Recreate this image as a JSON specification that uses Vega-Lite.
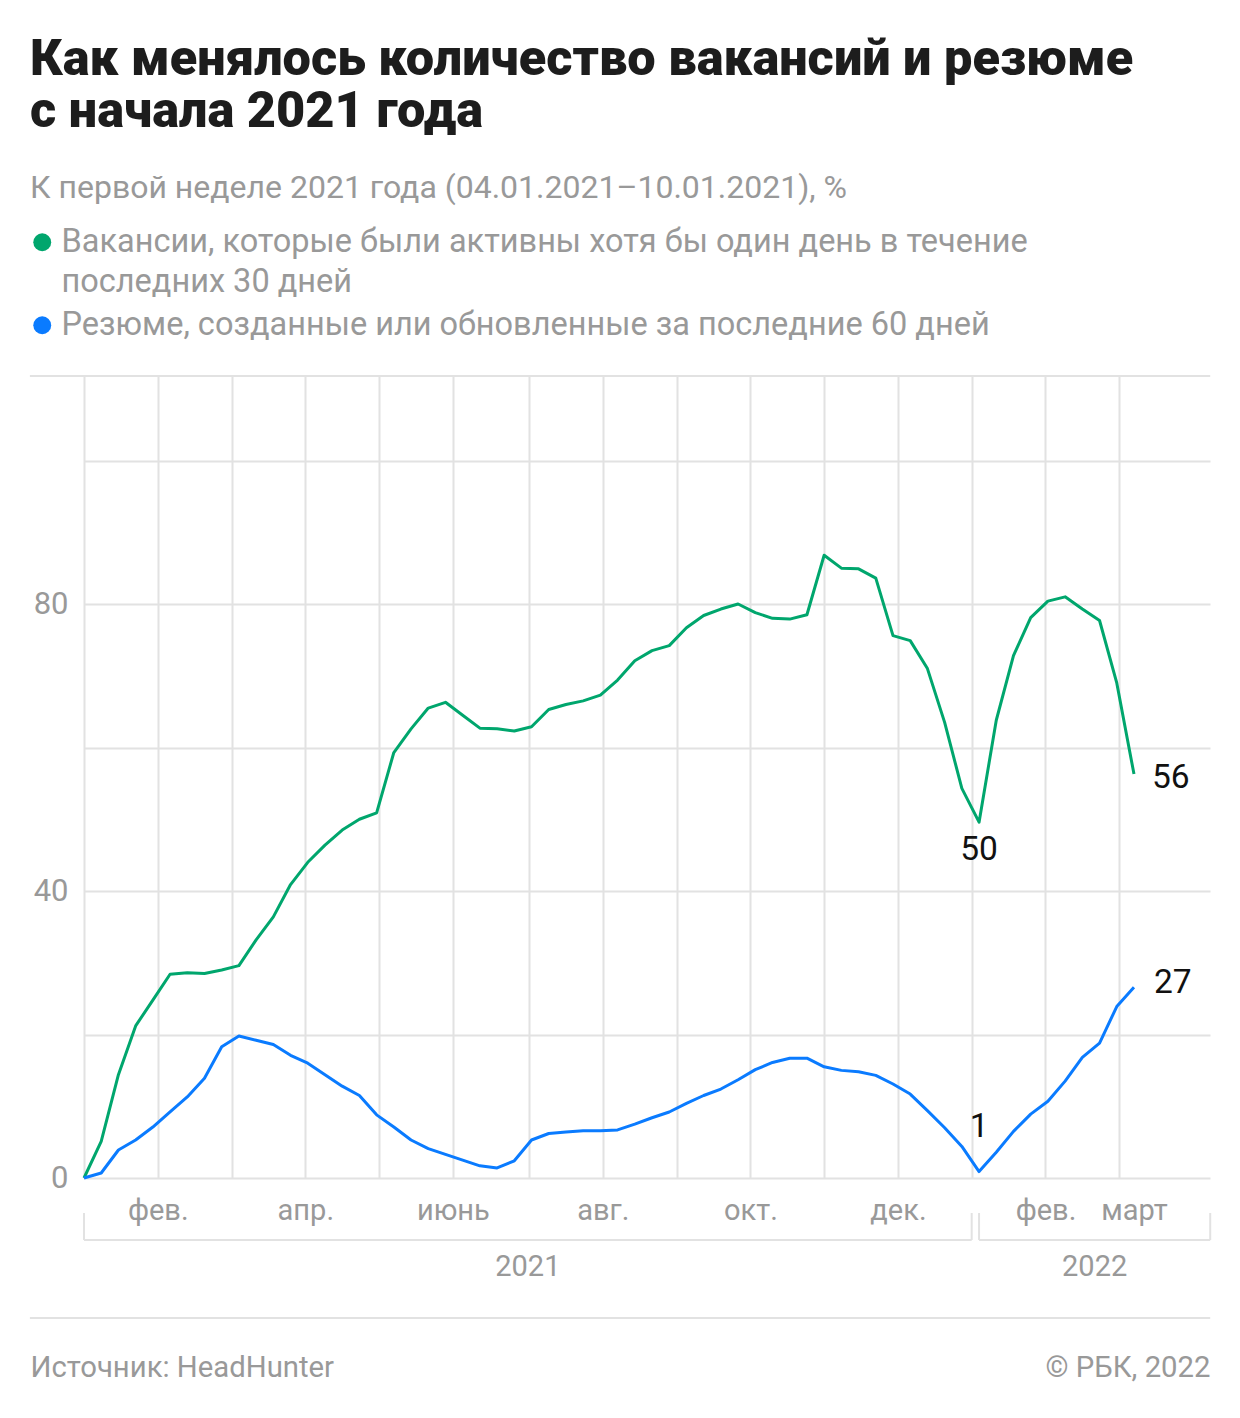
{
  "$schema": "https://vega.github.io/schema/vega-lite/v6.json",
  "width": 1126,
  "height": 802,
  "autosize": {"type": "none"},
  "padding": {"left": 84, "top": 376, "right": 30, "bottom": 240},
  "background": "white",
  "config": {"font": "Roboto", "view": {"stroke": null}},
  "title": {
    "text": ["Как менялось количество вакансий и резюме", "с начала 2021 года"],
    "subtitle": "К первой неделе 2021 года (04.01.2021–10.01.2021), %",
    "anchor": "start",
    "frame": "group",
    "dx": -54,
    "offset": 22,
    "font": "Roboto",
    "fontSize": 50.5,
    "fontWeight": 900,
    "lineHeight": 52,
    "color": "#1d1d1d",
    "subtitleFont": "Roboto",
    "subtitleFontSize": 32,
    "subtitleColor": "#999999",
    "subtitlePadding": 36
  },
  "data": {
    "format": {"parse": {"d": "date"}},
    "values": [
      {"d": "2021-01-04", "s": "Вакансии", "v": 0},
      {"d": "2021-01-11", "s": "Вакансии", "v": 5.1},
      {"d": "2021-01-18", "s": "Вакансии", "v": 14.4},
      {"d": "2021-01-25", "s": "Вакансии", "v": 21.2},
      {"d": "2021-02-01", "s": "Вакансии", "v": 24.8},
      {"d": "2021-02-08", "s": "Вакансии", "v": 28.4},
      {"d": "2021-02-15", "s": "Вакансии", "v": 28.6},
      {"d": "2021-02-22", "s": "Вакансии", "v": 28.5},
      {"d": "2021-03-01", "s": "Вакансии", "v": 29.0},
      {"d": "2021-03-08", "s": "Вакансии", "v": 29.6},
      {"d": "2021-03-15", "s": "Вакансии", "v": 33.2},
      {"d": "2021-03-22", "s": "Вакансии", "v": 36.4},
      {"d": "2021-03-29", "s": "Вакансии", "v": 40.9},
      {"d": "2021-04-05", "s": "Вакансии", "v": 44.0},
      {"d": "2021-04-12", "s": "Вакансии", "v": 46.4},
      {"d": "2021-04-19", "s": "Вакансии", "v": 48.5},
      {"d": "2021-04-26", "s": "Вакансии", "v": 50.0},
      {"d": "2021-05-03", "s": "Вакансии", "v": 50.9},
      {"d": "2021-05-10", "s": "Вакансии", "v": 59.3},
      {"d": "2021-05-17", "s": "Вакансии", "v": 62.6},
      {"d": "2021-05-24", "s": "Вакансии", "v": 65.5},
      {"d": "2021-05-31", "s": "Вакансии", "v": 66.3},
      {"d": "2021-06-07", "s": "Вакансии", "v": 64.5},
      {"d": "2021-06-14", "s": "Вакансии", "v": 62.7},
      {"d": "2021-06-21", "s": "Вакансии", "v": 62.6},
      {"d": "2021-06-28", "s": "Вакансии", "v": 62.3},
      {"d": "2021-07-05", "s": "Вакансии", "v": 62.9},
      {"d": "2021-07-12", "s": "Вакансии", "v": 65.3},
      {"d": "2021-07-19", "s": "Вакансии", "v": 66.0},
      {"d": "2021-07-26", "s": "Вакансии", "v": 66.5},
      {"d": "2021-08-02", "s": "Вакансии", "v": 67.3},
      {"d": "2021-08-09", "s": "Вакансии", "v": 69.4},
      {"d": "2021-08-16", "s": "Вакансии", "v": 72.1},
      {"d": "2021-08-23", "s": "Вакансии", "v": 73.5},
      {"d": "2021-08-30", "s": "Вакансии", "v": 74.2},
      {"d": "2021-09-06", "s": "Вакансии", "v": 76.7},
      {"d": "2021-09-13", "s": "Вакансии", "v": 78.4},
      {"d": "2021-09-20", "s": "Вакансии", "v": 79.3},
      {"d": "2021-09-27", "s": "Вакансии", "v": 80.0},
      {"d": "2021-10-04", "s": "Вакансии", "v": 78.8},
      {"d": "2021-10-11", "s": "Вакансии", "v": 78.0},
      {"d": "2021-10-18", "s": "Вакансии", "v": 77.9},
      {"d": "2021-10-25", "s": "Вакансии", "v": 78.5},
      {"d": "2021-11-01", "s": "Вакансии", "v": 86.8},
      {"d": "2021-11-08", "s": "Вакансии", "v": 85.0},
      {"d": "2021-11-15", "s": "Вакансии", "v": 84.9},
      {"d": "2021-11-22", "s": "Вакансии", "v": 83.6},
      {"d": "2021-11-29", "s": "Вакансии", "v": 75.6},
      {"d": "2021-12-06", "s": "Вакансии", "v": 74.9},
      {"d": "2021-12-13", "s": "Вакансии", "v": 71.0},
      {"d": "2021-12-20", "s": "Вакансии", "v": 63.5},
      {"d": "2021-12-27", "s": "Вакансии", "v": 54.3},
      {"d": "2022-01-03", "s": "Вакансии", "v": 49.6},
      {"d": "2022-01-10", "s": "Вакансии", "v": 63.8},
      {"d": "2022-01-17", "s": "Вакансии", "v": 72.8},
      {"d": "2022-01-24", "s": "Вакансии", "v": 78.1},
      {"d": "2022-01-31", "s": "Вакансии", "v": 80.4},
      {"d": "2022-02-07", "s": "Вакансии", "v": 81.0},
      {"d": "2022-02-14", "s": "Вакансии", "v": 79.3},
      {"d": "2022-02-21", "s": "Вакансии", "v": 77.7},
      {"d": "2022-02-28", "s": "Вакансии", "v": 69.0},
      {"d": "2022-03-07", "s": "Вакансии", "v": 56.3},
      {"d": "2021-01-04", "s": "Резюме", "v": 0},
      {"d": "2021-01-11", "s": "Резюме", "v": 0.7},
      {"d": "2021-01-18", "s": "Резюме", "v": 3.9},
      {"d": "2021-01-25", "s": "Резюме", "v": 5.3},
      {"d": "2021-02-01", "s": "Резюме", "v": 7.1},
      {"d": "2021-02-08", "s": "Резюме", "v": 9.2},
      {"d": "2021-02-15", "s": "Резюме", "v": 11.3},
      {"d": "2021-02-22", "s": "Резюме", "v": 13.9},
      {"d": "2021-03-01", "s": "Резюме", "v": 18.3},
      {"d": "2021-03-08", "s": "Резюме", "v": 19.8},
      {"d": "2021-03-15", "s": "Резюме", "v": 19.2},
      {"d": "2021-03-22", "s": "Резюме", "v": 18.6},
      {"d": "2021-03-29", "s": "Резюме", "v": 17.1},
      {"d": "2021-04-05", "s": "Резюме", "v": 16.0},
      {"d": "2021-04-12", "s": "Резюме", "v": 14.4},
      {"d": "2021-04-19", "s": "Резюме", "v": 12.8},
      {"d": "2021-04-26", "s": "Резюме", "v": 11.5},
      {"d": "2021-05-03", "s": "Резюме", "v": 8.8},
      {"d": "2021-05-10", "s": "Резюме", "v": 7.1},
      {"d": "2021-05-17", "s": "Резюме", "v": 5.3},
      {"d": "2021-05-24", "s": "Резюме", "v": 4.1},
      {"d": "2021-05-31", "s": "Резюме", "v": 3.3},
      {"d": "2021-06-07", "s": "Резюме", "v": 2.5},
      {"d": "2021-06-14", "s": "Резюме", "v": 1.7},
      {"d": "2021-06-21", "s": "Резюме", "v": 1.4},
      {"d": "2021-06-28", "s": "Резюме", "v": 2.4},
      {"d": "2021-07-05", "s": "Резюме", "v": 5.3},
      {"d": "2021-07-12", "s": "Резюме", "v": 6.2},
      {"d": "2021-07-19", "s": "Резюме", "v": 6.4},
      {"d": "2021-07-26", "s": "Резюме", "v": 6.6},
      {"d": "2021-08-02", "s": "Резюме", "v": 6.6},
      {"d": "2021-08-09", "s": "Резюме", "v": 6.7},
      {"d": "2021-08-16", "s": "Резюме", "v": 7.5},
      {"d": "2021-08-23", "s": "Резюме", "v": 8.4},
      {"d": "2021-08-30", "s": "Резюме", "v": 9.2},
      {"d": "2021-09-06", "s": "Резюме", "v": 10.4},
      {"d": "2021-09-13", "s": "Резюме", "v": 11.5},
      {"d": "2021-09-20", "s": "Резюме", "v": 12.4},
      {"d": "2021-09-27", "s": "Резюме", "v": 13.7},
      {"d": "2021-10-04", "s": "Резюме", "v": 15.1},
      {"d": "2021-10-11", "s": "Резюме", "v": 16.1},
      {"d": "2021-10-18", "s": "Резюме", "v": 16.7},
      {"d": "2021-10-25", "s": "Резюме", "v": 16.7},
      {"d": "2021-11-01", "s": "Резюме", "v": 15.5},
      {"d": "2021-11-08", "s": "Резюме", "v": 15.0},
      {"d": "2021-11-15", "s": "Резюме", "v": 14.8},
      {"d": "2021-11-22", "s": "Резюме", "v": 14.3},
      {"d": "2021-11-29", "s": "Резюме", "v": 13.1},
      {"d": "2021-12-06", "s": "Резюме", "v": 11.7},
      {"d": "2021-12-13", "s": "Резюме", "v": 9.4},
      {"d": "2021-12-20", "s": "Резюме", "v": 7.0},
      {"d": "2021-12-27", "s": "Резюме", "v": 4.4},
      {"d": "2022-01-03", "s": "Резюме", "v": 0.9},
      {"d": "2022-01-10", "s": "Резюме", "v": 3.6},
      {"d": "2022-01-17", "s": "Резюме", "v": 6.5},
      {"d": "2022-01-24", "s": "Резюме", "v": 8.9},
      {"d": "2022-01-31", "s": "Резюме", "v": 10.7},
      {"d": "2022-02-07", "s": "Резюме", "v": 13.5},
      {"d": "2022-02-14", "s": "Резюме", "v": 16.8},
      {"d": "2022-02-21", "s": "Резюме", "v": 18.8},
      {"d": "2022-02-28", "s": "Резюме", "v": 23.9},
      {"d": "2022-03-07", "s": "Резюме", "v": 26.6}
    ]
  },
  "layer": [
    {
      "data": {"values": [{}]},
      "mark": {"type": "rule", "color": "#e2e2e2", "strokeWidth": 2},
      "encoding": {
        "x": {"datum": {"year": 2020, "month": 12, "date": 13, "utc": true}, "type": "temporal"},
        "x2": {"datum": {"year": 2022, "month": 4, "date": 7, "utc": true}},
        "y": {"datum": 111.78, "type": "quantitative"}
      }
    },
    {
      "data": {"values": [{}]},
      "mark": {"type": "rule", "color": "#e2e2e2", "strokeWidth": 2},
      "encoding": {
        "x": {"datum": {"year": 2020, "month": 12, "date": 13, "utc": true}, "type": "temporal"},
        "x2": {"datum": {"year": 2022, "month": 4, "date": 7, "utc": true}},
        "y": {"datum": -19.51, "type": "quantitative"}
      }
    },
    {
      "data": {
        "format": {"parse": {"start": "date", "end": "date"}},
        "values": [
          {"year": "2021", "start": "2021-01-04", "end": "2021-12-31"},
          {"year": "2022", "start": "2022-01-03", "end": "2022-04-07"}
        ]
      },
      "layer": [
        {
          "mark": {"type": "rule", "color": "#e2e2e2", "strokeWidth": 2},
          "encoding": {
            "x": {"field": "start", "type": "temporal"},
            "x2": {"field": "end"},
            "y": {"datum": -8.64, "type": "quantitative"}
          }
        },
        {
          "mark": {"type": "rule", "color": "#e2e2e2", "strokeWidth": 2},
          "encoding": {
            "x": {"field": "start", "type": "temporal"},
            "y": {"datum": -4.88, "type": "quantitative"},
            "y2": {"datum": -8.64}
          }
        },
        {
          "mark": {"type": "rule", "color": "#e2e2e2", "strokeWidth": 2},
          "encoding": {
            "x": {"field": "end", "type": "temporal"},
            "y": {"datum": -4.88, "type": "quantitative"},
            "y2": {"datum": -8.64}
          }
        },
        {
          "transform": [{"fold": ["start", "end"], "as": ["k", "t"]}],
          "mark": {"type": "text", "fontSize": 29, "color": "#999999", "align": "center", "baseline": "middle"},
          "encoding": {
            "x": {"field": "t", "type": "temporal", "aggregate": "mean"},
            "y": {"datum": -12.4, "type": "quantitative"},
            "text": {"field": "year", "type": "nominal"}
          }
        }
      ]
    },
    {
      "mark": {"type": "line", "strokeWidth": 3, "strokeJoin": "round"},
      "encoding": {
        "x": {
          "field": "d",
          "type": "temporal",
          "scale": {
            "domain": [
              {"year": 2021, "month": 1, "date": 4, "utc": true},
              {"year": 2022, "month": 4, "date": 6, "hours": 22, "utc": true}
            ],
            "nice": false
          },
          "axis": {
            "title": "Источник: HeadHunter",
            "titleX": -54,
            "titleY": 189,
            "titleAlign": "left",
            "titleAnchor": "start",
            "titleBaseline": "middle",
            "titleFont": "Roboto",
            "titleFontSize": 29.3,
            "titleFontWeight": "normal",
            "titleColor": "#999999",
            "values": [
              {"year": 2021, "month": 1, "date": 4, "utc": true},
              {"year": 2021, "month": 2, "date": 3, "utc": true},
              {"year": 2021, "month": 3, "date": 5, "utc": true},
              {"year": 2021, "month": 4, "date": 4, "utc": true},
              {"year": 2021, "month": 5, "date": 4, "utc": true},
              {"year": 2021, "month": 6, "date": 3, "utc": true},
              {"year": 2021, "month": 7, "date": 4, "utc": true},
              {"year": 2021, "month": 8, "date": 3, "utc": true},
              {"year": 2021, "month": 9, "date": 2, "utc": true},
              {"year": 2021, "month": 10, "date": 2, "utc": true},
              {"year": 2021, "month": 11, "date": 1, "utc": true},
              {"year": 2021, "month": 12, "date": 1, "utc": true},
              {"year": 2021, "month": 12, "date": 31, "utc": true},
              {"year": 2022, "month": 1, "date": 30, "utc": true},
              {"year": 2022, "month": 3, "date": 1, "utc": true},
              {"year": 2022, "month": 3, "date": 7, "utc": true}
            ],
            "labelExpr": "indexof(['2021-02-03','2021-04-04','2021-06-03','2021-08-03','2021-10-02','2021-12-01','2022-01-30','2022-03-07'], utcFormat(datum.value, '%Y-%m-%d')) >= 0 ? ['фев.','апр.','июнь','авг.','окт.','дек.','фев.','март'][indexof(['2021-02-03','2021-04-04','2021-06-03','2021-08-03','2021-10-02','2021-12-01','2022-01-30','2022-03-07'], utcFormat(datum.value, '%Y-%m-%d'))] : ''",
            "labelFont": "Roboto",
            "labelFontSize": 29,
            "labelColor": "#999999",
            "labelBaseline": "middle",
            "labelPadding": 32,
            "labelOverlap": false,
            "labelFlush": false,
            "domain": false,
            "ticks": false,
            "tickSize": 0,
            "grid": true,
            "gridColor": "#e2e2e2",
            "gridWidth": 2,
            "gridOpacity": {"condition": {"test": "utcFormat(datum.value, '%Y-%m-%d') == '2022-03-07'", "value": 0}, "value": 1}
          }
        },
        "y": {
          "field": "v",
          "type": "quantitative",
          "scale": {"domain": [0, 111.78], "nice": false, "zero": false},
          "axis": {
            "title": "© РБК, 2022",
            "titleAngle": 0,
            "titleX": 1126,
            "titleY": 991,
            "titleAlign": "right",
            "titleBaseline": "middle",
            "titleFont": "Roboto",
            "titleFontSize": 29.3,
            "titleFontWeight": "normal",
            "titleColor": "#999999",
            "values": [0, 20, 40, 60, 80, 100],
            "labelExpr": "datum.value % 40 == 0 ? datum.label : ''",
            "labelFont": "Roboto",
            "labelFontSize": 31,
            "labelColor": "#999999",
            "labelPadding": 16,
            "labelOverlap": false,
            "domain": false,
            "ticks": false,
            "tickSize": 0,
            "grid": true,
            "gridColor": "#e2e2e2",
            "gridWidth": 2
          }
        },
        "color": {
          "field": "s",
          "type": "nominal",
          "scale": {"domain": ["Вакансии", "Резюме"], "range": ["#00a66d", "#0a7bff"]},
          "legend": {
            "orient": "none",
            "legendX": -58,
            "legendY": -150,
            "title": null,
            "direction": "vertical",
            "padding": 0,
            "symbolType": "circle",
            "symbolSize": 320,
            "symbolStrokeWidth": 0,
            "labelFont": "Roboto",
            "labelFontSize": 32.5,
            "labelColor": "#999999",
            "labelLimit": 1200,
            "labelOffset": 3,
            "rowPadding": 10,
            "labelExpr": "datum.value == 'Вакансии' ? ['Вакансии, которые были активны хотя бы один день в течение', 'последних 30 дней'] : 'Резюме, созданные или обновленные за последние 60 дней'",
            "encode": {
              "symbols": {"update": {"fill": {"scale": "color", "field": "value"}, "stroke": {"value": "transparent"}}},
              "labels": {"update": {"lineHeight": {"value": 40}}}
            }
          }
        }
      }
    },
    {
      "transform": [{"filter": "datum.s == 'Вакансии' && utcFormat(datum.d, '%Y-%m-%d') == '2022-01-03'"}],
      "mark": {"type": "text", "fontSize": 33.5, "color": "#111111", "align": "center", "baseline": "middle", "dy": 28},
      "encoding": {
        "x": {"field": "d", "type": "temporal"},
        "y": {"field": "v", "type": "quantitative"},
        "text": {"field": "v", "type": "quantitative", "format": ".0f"}
      }
    },
    {
      "transform": [{"filter": "datum.s == 'Резюме' && utcFormat(datum.d, '%Y-%m-%d') == '2022-01-03'"}],
      "mark": {"type": "text", "fontSize": 33.5, "color": "#111111", "align": "center", "baseline": "middle", "dy": -45},
      "encoding": {
        "x": {"field": "d", "type": "temporal"},
        "y": {"field": "v", "type": "quantitative"},
        "text": {"field": "v", "type": "quantitative", "format": ".0f"}
      }
    },
    {
      "transform": [{"filter": "datum.s == 'Вакансии' && utcFormat(datum.d, '%Y-%m-%d') == '2022-03-07'"}],
      "mark": {"type": "text", "fontSize": 33.5, "color": "#111111", "align": "left", "baseline": "middle", "dx": 18, "dy": 4},
      "encoding": {
        "x": {"field": "d", "type": "temporal"},
        "y": {"field": "v", "type": "quantitative"},
        "text": {"field": "v", "type": "quantitative", "format": ".0f"}
      }
    },
    {
      "transform": [{"filter": "datum.s == 'Резюме' && utcFormat(datum.d, '%Y-%m-%d') == '2022-03-07'"}],
      "mark": {"type": "text", "fontSize": 33.5, "color": "#111111", "align": "left", "baseline": "middle", "dx": 20, "dy": -4},
      "encoding": {
        "x": {"field": "d", "type": "temporal"},
        "y": {"field": "v", "type": "quantitative"},
        "text": {"field": "v", "type": "quantitative", "format": ".0f"}
      }
    }
  ]
}
